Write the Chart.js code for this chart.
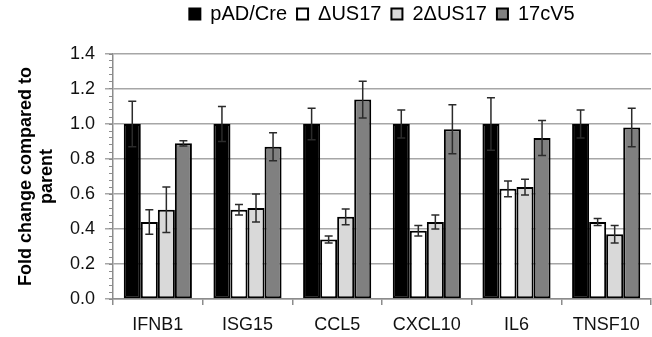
<!DOCTYPE html>
<html>
<head>
<meta charset="utf-8">
<script src="https://cdn.jsdelivr.net/npm/chart.js@4.4.1/dist/chart.umd.min.js"></script>
<style>
    html, body { margin: 0; padding: 0; background: #fff; }
    #wrap { width: 652px; height: 337px; }
</style>
</head>
<body>
<div id="wrap"><canvas id="foldChart"></canvas></div>
<script>
// Data
const genes = ["IFNB1", "ISG15", "CCL5", "CXCL10", "IL6", "TNSF10"];
const seriesNames = ["pAD/Cre", "\u0394US17", "2\u0394US17", "17cV5"];

const pADCre   = [1.00, 1.00, 1.00, 1.00, 1.00, 1.00];
const dUS17    = [0.44, 0.51, 0.34, 0.39, 0.63, 0.44];
const d2US17   = [0.51, 0.52, 0.47, 0.44, 0.64, 0.37];
const cV5      = [0.89, 0.87, 1.14, 0.97, 0.92, 0.98];

const pADCreErr = [0.13, 0.10, 0.09, 0.08, 0.15, 0.08];
const dUS17Err  = [0.07, 0.03, 0.02, 0.03, 0.045, 0.02];
const d2US17Err = [0.13, 0.08, 0.045, 0.04, 0.045, 0.05];
const cV5Err    = [0.015, 0.08, 0.105, 0.14, 0.10, 0.11];

const yTicks = [0.0, 0.2, 0.4, 0.6, 0.8, 1.0, 1.2, 1.4];

const fontFamily = "'Liberation Sans', Arial, sans-serif";

// Error bars drawn through the y scale, plus extra room under the legend
const errorBarPlugin = {
    id: "errorBars",
    beforeLayout(chart) {
        const legend = chart.legend;
        if (legend && !legend._extraRoom) {
            const origFit = legend.fit;
            legend.fit = function() {
                origFit.call(this);
                this.height += 20;
            };
            legend._extraRoom = true;
        }
    },
    afterDatasetsDraw(chart) {
        const ctx = chart.ctx;
        const yScale = chart.scales.y;
        ctx.save();
        ctx.strokeStyle = "#2b2b2b";
        ctx.lineWidth = 1.5;
        chart.data.datasets.forEach(function(ds, i) {
            const meta = chart.getDatasetMeta(i);
            meta.data.forEach(function(bar, j) {
                const v = ds.data[j];
                const e = ds.errors[j];
                const yTop = yScale.getPixelForValue(v + e);
                const yBot = yScale.getPixelForValue(v - e);
                const x = bar.x;
                ctx.beginPath();
                ctx.moveTo(x, yTop);
                ctx.lineTo(x, yBot);
                ctx.moveTo(x - 4, yTop);
                ctx.lineTo(x + 4, yTop);
                ctx.moveTo(x - 4, yBot);
                ctx.lineTo(x + 4, yBot);
                ctx.stroke();
            });
        });
        ctx.restore();
    }
};

function makeSet(label, values, errors, color) {
    return {
        label: label,
        data: values,
        errors: errors,
        backgroundColor: color,
        borderColor: "#000",
        borderWidth: 2,
        borderSkipped: false
    };
}

document.addEventListener("DOMContentLoaded", function() {
    const ctx = document.getElementById("foldChart").getContext("2d");
    new Chart(ctx, {
        type: "bar",
        data: {
            labels: genes,
            datasets: [
                makeSet(seriesNames[0], pADCre, pADCreErr, "#000000"),
                makeSet(seriesNames[1], dUS17, dUS17Err, "#ffffff"),
                makeSet(seriesNames[2], d2US17, d2US17Err, "#d9d9d9"),
                makeSet(seriesNames[3], cV5, cV5Err, "#808080")
            ]
        },
        options: {
            responsive: true,
            maintainAspectRatio: false,
            animation: false,
            layout: { padding: { top: -6, right: 1, left: 0, bottom: 0 } },
            datasets: {
                bar: { categoryPercentage: 0.76, barPercentage: 1.0 }
            },
            plugins: {
                legend: {
                    position: "top",
                    fullSize: false,
                    labels: {
                        color: "#000",
                        font: { family: fontFamily, size: 20 },
                        boxWidth: 11,
                        boxHeight: 11,
                        padding: 10
                    }
                },
                tooltip: { enabled: false }
            },
            scales: {
                x: {
                    grid: {
                        offset: true,
                        drawOnChartArea: false,
                        tickLength: 6,
                        color: "#8c8c8c",
                        lineWidth: 1.5
                    },
                    border: { color: "#8c8c8c", width: 1.5 },
                    ticks: {
                        color: "#111",
                        font: { family: fontFamily, size: 18 },
                        padding: 9
                    },
                    afterFit: function(scale) { scale.height = 38; }
                },
                y: {
                    min: 0,
                    max: 1.4,
                    weight: 1,
                    afterBuildTicks: function(scale) {
                        scale.ticks = yTicks.map(function(v) { return { value: v }; });
                    },
                    ticks: {
                        color: "#111",
                        font: { family: fontFamily, size: 18 },
                        padding: 10,
                        callback: function(v) { return Number(v).toFixed(1); }
                    },
                    grid: {
                        color: "#a6a6a6",
                        lineWidth: 1.5,
                        tickLength: 8
                    },
                    border: { color: "#8c8c8c", width: 1.5 },
                    title: {
                        display: true,
                        text: ["Fold change compared to", "parent"],
                        color: "#000",
                        font: { family: fontFamily, size: 18, weight: "bold" },
                        padding: { top: 15, bottom: 0 }
                    },
                    afterFit: function(scale) { scale.width = 113; }
                },
                yMinor: {
                    position: "left",
                    weight: 0,
                    min: 0,
                    max: 1.4,
                    ticks: { display: false, stepSize: 0.04, font: { size: 2 } },
                    grid: {
                        drawOnChartArea: false,
                        tickLength: 4,
                        color: "#8c8c8c",
                        lineWidth: 1
                    },
                    border: { display: false },
                    afterFit: function(scale) { scale.width = 0; }
                }
            }
        },
        plugins: [errorBarPlugin]
    });
});
</script>
</body>
</html>
